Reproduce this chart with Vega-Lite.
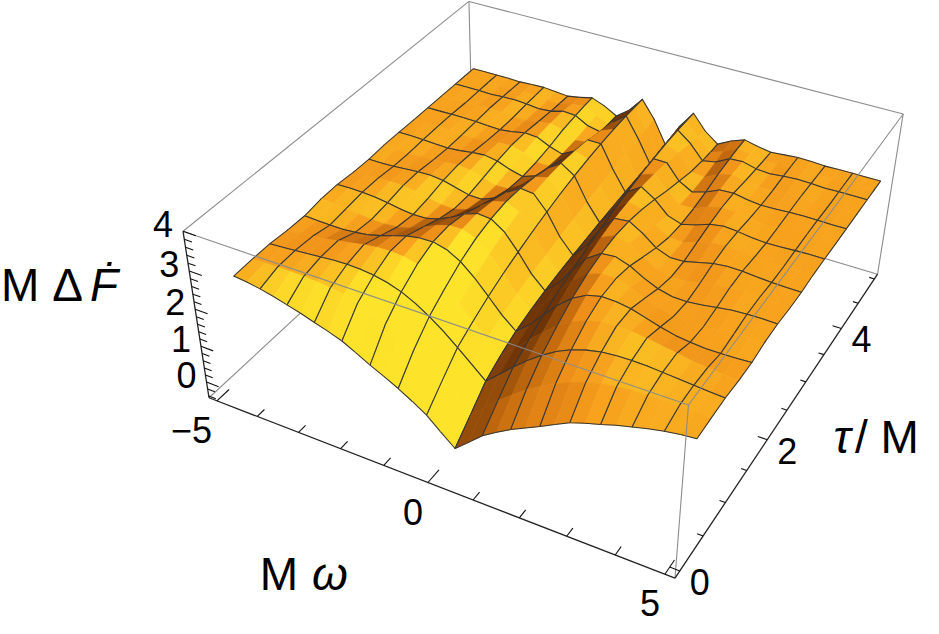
{
  "$schema": "https://vega.github.io/schema/vega-lite/v6.json",
  "width": 939,
  "height": 634,
  "padding": 0,
  "autosize": {"type": "fit", "contains": "padding"},
  "background": "white",
  "config": {"view": {"stroke": null}, "text": {"font": "Liberation Sans", "color": "black"}},
  "datasets": {
    "grid": [
      {"id":16,"w":-5,"t":5,"f":2.27},{"id":116,"w":-4.6875,"t":5,"f":2.27},{"id":216,"w":-4.375,"t":5,"f":2.27},{"id":316,"w":-4.0625,"t":5,"f":2.27},{"id":416,"w":-3.75,"t":5,"f":2.26},{"id":516,"w":-3.4375,"t":5,"f":2.28},{"id":616,"w":-3.125,"t":5,"f":2.29},{"id":716,"w":-2.8125,"t":5,"f":2.26},{"id":816,"w":-2.5,"t":5,"f":2.23},{"id":916,"w":-2.1875,"t":5,"f":2.29},{"id":1016,"w":-1.875,"t":5,"f":2.37},{"id":1116,"w":-1.5625,"t":5,"f":2.24},{"id":1216,"w":-1.25,"t":5,"f":2.05},{"id":1316,"w":-0.9375,"t":5,"f":2.31},{"id":1416,"w":-0.625,"t":5,"f":2.71},{"id":1516,"w":-0.3125,"t":5,"f":2.25},{"id":1616,"w":0,"t":5,"f":1.62},{"id":1716,"w":0.3125,"t":5,"f":2.25},{"id":1816,"w":0.625,"t":5,"f":2.71},{"id":1916,"w":0.9375,"t":5,"f":2.31},{"id":2016,"w":1.25,"t":5,"f":2.05},{"id":2116,"w":1.5625,"t":5,"f":2.24},{"id":2216,"w":1.875,"t":5,"f":2.37},{"id":2316,"w":2.1875,"t":5,"f":2.29},{"id":2416,"w":2.5,"t":5,"f":2.23},{"id":2516,"w":2.8125,"t":5,"f":2.26},{"id":2616,"w":3.125,"t":5,"f":2.29},{"id":2716,"w":3.4375,"t":5,"f":2.28},{"id":2816,"w":3.75,"t":5,"f":2.26},{"id":2916,"w":4.0625,"t":5,"f":2.27},{"id":3016,"w":4.375,"t":5,"f":2.27},{"id":3116,"w":4.6875,"t":5,"f":2.27},{"id":3216,"w":5,"t":5,"f":2.27},
      {"id":15,"w":-5,"t":4.8,"f":2.27},{"id":115,"w":-4.6875,"t":4.8,"f":2.27},{"id":215,"w":-4.375,"t":4.8,"f":2.27},{"id":315,"w":-4.0625,"t":4.8,"f":2.26},{"id":415,"w":-3.75,"t":4.8,"f":2.27},{"id":515,"w":-3.4375,"t":4.8,"f":2.29},{"id":615,"w":-3.125,"t":4.8,"f":2.28},{"id":715,"w":-2.8125,"t":4.8,"f":2.24},{"id":815,"w":-2.5,"t":4.8,"f":2.24},{"id":915,"w":-2.1875,"t":4.8,"f":2.32},{"id":1015,"w":-1.875,"t":4.8,"f":2.36},{"id":1115,"w":-1.5625,"t":4.8,"f":2.19},{"id":1215,"w":-1.25,"t":4.8,"f":2.05},{"id":1315,"w":-0.9375,"t":4.8,"f":2.38},{"id":1415,"w":-0.625,"t":4.8,"f":2.71},{"id":1515,"w":-0.3125,"t":4.8,"f":2.21},{"id":1615,"w":0,"t":4.8,"f":1.60},{"id":1715,"w":0.3125,"t":4.8,"f":2.21},{"id":1815,"w":0.625,"t":4.8,"f":2.71},{"id":1915,"w":0.9375,"t":4.8,"f":2.38},{"id":2015,"w":1.25,"t":4.8,"f":2.05},{"id":2115,"w":1.5625,"t":4.8,"f":2.19},{"id":2215,"w":1.875,"t":4.8,"f":2.36},{"id":2315,"w":2.1875,"t":4.8,"f":2.32},{"id":2415,"w":2.5,"t":4.8,"f":2.24},{"id":2515,"w":2.8125,"t":4.8,"f":2.24},{"id":2615,"w":3.125,"t":4.8,"f":2.28},{"id":2715,"w":3.4375,"t":4.8,"f":2.29},{"id":2815,"w":3.75,"t":4.8,"f":2.27},{"id":2915,"w":4.0625,"t":4.8,"f":2.26},{"id":3015,"w":4.375,"t":4.8,"f":2.27},{"id":3115,"w":4.6875,"t":4.8,"f":2.27},{"id":3215,"w":5,"t":4.8,"f":2.27},
      {"id":14,"w":-5,"t":4.6,"f":2.27},{"id":114,"w":-4.6875,"t":4.6,"f":2.27},{"id":214,"w":-4.375,"t":4.6,"f":2.27},{"id":314,"w":-4.0625,"t":4.6,"f":2.26},{"id":414,"w":-3.75,"t":4.6,"f":2.28},{"id":514,"w":-3.4375,"t":4.6,"f":2.29},{"id":614,"w":-3.125,"t":4.6,"f":2.27},{"id":714,"w":-2.8125,"t":4.6,"f":2.23},{"id":814,"w":-2.5,"t":4.6,"f":2.26},{"id":914,"w":-2.1875,"t":4.6,"f":2.35},{"id":1014,"w":-1.875,"t":4.6,"f":2.33},{"id":1114,"w":-1.5625,"t":4.6,"f":2.14},{"id":1214,"w":-1.25,"t":4.6,"f":2.07},{"id":1314,"w":-0.9375,"t":4.6,"f":2.45},{"id":1414,"w":-0.625,"t":4.6,"f":2.71},{"id":1514,"w":-0.3125,"t":4.6,"f":2.18},{"id":1614,"w":0,"t":4.6,"f":1.58},{"id":1714,"w":0.3125,"t":4.6,"f":2.18},{"id":1814,"w":0.625,"t":4.6,"f":2.71},{"id":1914,"w":0.9375,"t":4.6,"f":2.45},{"id":2014,"w":1.25,"t":4.6,"f":2.07},{"id":2114,"w":1.5625,"t":4.6,"f":2.14},{"id":2214,"w":1.875,"t":4.6,"f":2.33},{"id":2314,"w":2.1875,"t":4.6,"f":2.35},{"id":2414,"w":2.5,"t":4.6,"f":2.26},{"id":2514,"w":2.8125,"t":4.6,"f":2.23},{"id":2614,"w":3.125,"t":4.6,"f":2.27},{"id":2714,"w":3.4375,"t":4.6,"f":2.29},{"id":2814,"w":3.75,"t":4.6,"f":2.28},{"id":2914,"w":4.0625,"t":4.6,"f":2.26},{"id":3014,"w":4.375,"t":4.6,"f":2.27},{"id":3114,"w":4.6875,"t":4.6,"f":2.27},{"id":3214,"w":5,"t":4.6,"f":2.27},
      {"id":13,"w":-5,"t":4.3,"f":2.27},{"id":113,"w":-4.6875,"t":4.3,"f":2.27},{"id":213,"w":-4.375,"t":4.3,"f":2.26},{"id":313,"w":-4.0625,"t":4.3,"f":2.27},{"id":413,"w":-3.75,"t":4.3,"f":2.29},{"id":513,"w":-3.4375,"t":4.3,"f":2.28},{"id":613,"w":-3.125,"t":4.3,"f":2.24},{"id":713,"w":-2.8125,"t":4.3,"f":2.24},{"id":813,"w":-2.5,"t":4.3,"f":2.30},{"id":913,"w":-2.1875,"t":4.3,"f":2.36},{"id":1013,"w":-1.875,"t":4.3,"f":2.27},{"id":1113,"w":-1.5625,"t":4.3,"f":2.08},{"id":1213,"w":-1.25,"t":4.3,"f":2.13},{"id":1313,"w":-0.9375,"t":4.3,"f":2.55},{"id":1413,"w":-0.625,"t":4.3,"f":2.69},{"id":1513,"w":-0.3125,"t":4.3,"f":2.12},{"id":1613,"w":0,"t":4.3,"f":1.55},{"id":1713,"w":0.3125,"t":4.3,"f":2.12},{"id":1813,"w":0.625,"t":4.3,"f":2.69},{"id":1913,"w":0.9375,"t":4.3,"f":2.55},{"id":2013,"w":1.25,"t":4.3,"f":2.13},{"id":2113,"w":1.5625,"t":4.3,"f":2.08},{"id":2213,"w":1.875,"t":4.3,"f":2.27},{"id":2313,"w":2.1875,"t":4.3,"f":2.36},{"id":2413,"w":2.5,"t":4.3,"f":2.30},{"id":2513,"w":2.8125,"t":4.3,"f":2.24},{"id":2613,"w":3.125,"t":4.3,"f":2.24},{"id":2713,"w":3.4375,"t":4.3,"f":2.28},{"id":2813,"w":3.75,"t":4.3,"f":2.29},{"id":2913,"w":4.0625,"t":4.3,"f":2.27},{"id":3013,"w":4.375,"t":4.3,"f":2.26},{"id":3113,"w":4.6875,"t":4.3,"f":2.27},{"id":3213,"w":5,"t":4.3,"f":2.27},
      {"id":12,"w":-5,"t":4,"f":2.27},{"id":112,"w":-4.6875,"t":4,"f":2.27},{"id":212,"w":-4.375,"t":4,"f":2.28},{"id":312,"w":-4.0625,"t":4,"f":2.28},{"id":412,"w":-3.75,"t":4,"f":2.27},{"id":512,"w":-3.4375,"t":4,"f":2.25},{"id":612,"w":-3.125,"t":4,"f":2.24},{"id":712,"w":-2.8125,"t":4,"f":2.28},{"id":812,"w":-2.5,"t":4,"f":2.35},{"id":912,"w":-2.1875,"t":4,"f":2.33},{"id":1012,"w":-1.875,"t":4,"f":2.17},{"id":1112,"w":-1.5625,"t":4,"f":2.06},{"id":1212,"w":-1.25,"t":4,"f":2.25},{"id":1312,"w":-0.9375,"t":4,"f":2.65},{"id":1412,"w":-0.625,"t":4,"f":2.65},{"id":1512,"w":-0.3125,"t":4,"f":2.04},{"id":1612,"w":0,"t":4,"f":1.52},{"id":1712,"w":0.3125,"t":4,"f":2.04},{"id":1812,"w":0.625,"t":4,"f":2.65},{"id":1912,"w":0.9375,"t":4,"f":2.65},{"id":2012,"w":1.25,"t":4,"f":2.25},{"id":2112,"w":1.5625,"t":4,"f":2.06},{"id":2212,"w":1.875,"t":4,"f":2.17},{"id":2312,"w":2.1875,"t":4,"f":2.33},{"id":2412,"w":2.5,"t":4,"f":2.35},{"id":2512,"w":2.8125,"t":4,"f":2.28},{"id":2612,"w":3.125,"t":4,"f":2.24},{"id":2712,"w":3.4375,"t":4,"f":2.25},{"id":2812,"w":3.75,"t":4,"f":2.27},{"id":2912,"w":4.0625,"t":4,"f":2.28},{"id":3012,"w":4.375,"t":4,"f":2.28},{"id":3112,"w":4.6875,"t":4,"f":2.27},{"id":3212,"w":5,"t":4,"f":2.27},
      {"id":11,"w":-5,"t":3.7,"f":2.27},{"id":111,"w":-4.6875,"t":3.7,"f":2.28},{"id":211,"w":-4.375,"t":3.7,"f":2.28},{"id":311,"w":-4.0625,"t":3.7,"f":2.27},{"id":411,"w":-3.75,"t":3.7,"f":2.25},{"id":511,"w":-3.4375,"t":3.7,"f":2.24},{"id":611,"w":-3.125,"t":3.7,"f":2.27},{"id":711,"w":-2.8125,"t":3.7,"f":2.33},{"id":811,"w":-2.5,"t":3.7,"f":2.35},{"id":911,"w":-2.1875,"t":3.7,"f":2.25},{"id":1011,"w":-1.875,"t":3.7,"f":2.10},{"id":1111,"w":-1.5625,"t":3.7,"f":2.09},{"id":1211,"w":-1.25,"t":3.7,"f":2.37},{"id":1311,"w":-0.9375,"t":3.7,"f":2.71},{"id":1411,"w":-0.625,"t":3.7,"f":2.59},{"id":1511,"w":-0.3125,"t":3.7,"f":1.98},{"id":1611,"w":0,"t":3.7,"f":1.48},{"id":1711,"w":0.3125,"t":3.7,"f":1.98},{"id":1811,"w":0.625,"t":3.7,"f":2.59},{"id":1911,"w":0.9375,"t":3.7,"f":2.71},{"id":2011,"w":1.25,"t":3.7,"f":2.37},{"id":2111,"w":1.5625,"t":3.7,"f":2.09},{"id":2211,"w":1.875,"t":3.7,"f":2.10},{"id":2311,"w":2.1875,"t":3.7,"f":2.25},{"id":2411,"w":2.5,"t":3.7,"f":2.35},{"id":2511,"w":2.8125,"t":3.7,"f":2.33},{"id":2611,"w":3.125,"t":3.7,"f":2.27},{"id":2711,"w":3.4375,"t":3.7,"f":2.24},{"id":2811,"w":3.75,"t":3.7,"f":2.25},{"id":2911,"w":4.0625,"t":3.7,"f":2.27},{"id":3011,"w":4.375,"t":3.7,"f":2.28},{"id":3111,"w":4.6875,"t":3.7,"f":2.28},{"id":3211,"w":5,"t":3.7,"f":2.27},
      {"id":10,"w":-5,"t":3.4,"f":2.28},{"id":110,"w":-4.6875,"t":3.4,"f":2.28},{"id":210,"w":-4.375,"t":3.4,"f":2.27},{"id":310,"w":-4.0625,"t":3.4,"f":2.25},{"id":410,"w":-3.75,"t":3.4,"f":2.24},{"id":510,"w":-3.4375,"t":3.4,"f":2.27},{"id":610,"w":-3.125,"t":3.4,"f":2.32},{"id":710,"w":-2.8125,"t":3.4,"f":2.35},{"id":810,"w":-2.5,"t":3.4,"f":2.29},{"id":910,"w":-2.1875,"t":3.4,"f":2.16},{"id":1010,"w":-1.875,"t":3.4,"f":2.07},{"id":1110,"w":-1.5625,"t":3.4,"f":2.19},{"id":1210,"w":-1.25,"t":3.4,"f":2.52},{"id":1310,"w":-0.9375,"t":3.4,"f":2.74},{"id":1410,"w":-0.625,"t":3.4,"f":2.51},{"id":1510,"w":-0.3125,"t":3.4,"f":1.90},{"id":1610,"w":0,"t":3.4,"f":1.44},{"id":1710,"w":0.3125,"t":3.4,"f":1.90},{"id":1810,"w":0.625,"t":3.4,"f":2.51},{"id":1910,"w":0.9375,"t":3.4,"f":2.74},{"id":2010,"w":1.25,"t":3.4,"f":2.52},{"id":2110,"w":1.5625,"t":3.4,"f":2.19},{"id":2210,"w":1.875,"t":3.4,"f":2.07},{"id":2310,"w":2.1875,"t":3.4,"f":2.16},{"id":2410,"w":2.5,"t":3.4,"f":2.29},{"id":2510,"w":2.8125,"t":3.4,"f":2.35},{"id":2610,"w":3.125,"t":3.4,"f":2.32},{"id":2710,"w":3.4375,"t":3.4,"f":2.27},{"id":2810,"w":3.75,"t":3.4,"f":2.24},{"id":2910,"w":4.0625,"t":3.4,"f":2.25},{"id":3010,"w":4.375,"t":3.4,"f":2.27},{"id":3110,"w":4.6875,"t":3.4,"f":2.28},{"id":3210,"w":5,"t":3.4,"f":2.28},
      {"id":9,"w":-5,"t":3.1,"f":2.28},{"id":109,"w":-4.6875,"t":3.1,"f":2.26},{"id":209,"w":-4.375,"t":3.1,"f":2.25},{"id":309,"w":-4.0625,"t":3.1,"f":2.25},{"id":409,"w":-3.75,"t":3.1,"f":2.27},{"id":509,"w":-3.4375,"t":3.1,"f":2.31},{"id":609,"w":-3.125,"t":3.1,"f":2.34},{"id":709,"w":-2.8125,"t":3.1,"f":2.30},{"id":809,"w":-2.5,"t":3.1,"f":2.20},{"id":909,"w":-2.1875,"t":3.1,"f":2.09},{"id":1009,"w":-1.875,"t":3.1,"f":2.11},{"id":1109,"w":-1.5625,"t":3.1,"f":2.32},{"id":1209,"w":-1.25,"t":3.1,"f":2.64},{"id":1309,"w":-0.9375,"t":3.1,"f":2.73},{"id":1409,"w":-0.625,"t":3.1,"f":2.42},{"id":1509,"w":-0.3125,"t":3.1,"f":1.82},{"id":1609,"w":0,"t":3.1,"f":1.39},{"id":1709,"w":0.3125,"t":3.1,"f":1.82},{"id":1809,"w":0.625,"t":3.1,"f":2.42},{"id":1909,"w":0.9375,"t":3.1,"f":2.73},{"id":2009,"w":1.25,"t":3.1,"f":2.64},{"id":2109,"w":1.5625,"t":3.1,"f":2.32},{"id":2209,"w":1.875,"t":3.1,"f":2.11},{"id":2309,"w":2.1875,"t":3.1,"f":2.09},{"id":2409,"w":2.5,"t":3.1,"f":2.20},{"id":2509,"w":2.8125,"t":3.1,"f":2.30},{"id":2609,"w":3.125,"t":3.1,"f":2.34},{"id":2709,"w":3.4375,"t":3.1,"f":2.31},{"id":2809,"w":3.75,"t":3.1,"f":2.27},{"id":2909,"w":4.0625,"t":3.1,"f":2.25},{"id":3009,"w":4.375,"t":3.1,"f":2.25},{"id":3109,"w":4.6875,"t":3.1,"f":2.26},{"id":3209,"w":5,"t":3.1,"f":2.28},
      {"id":8,"w":-5,"t":2.8,"f":2.25},{"id":108,"w":-4.6875,"t":2.8,"f":2.25},{"id":208,"w":-4.375,"t":2.8,"f":2.26},{"id":308,"w":-4.0625,"t":2.8,"f":2.29},{"id":408,"w":-3.75,"t":2.8,"f":2.32},{"id":508,"w":-3.4375,"t":2.8,"f":2.33},{"id":608,"w":-3.125,"t":2.8,"f":2.29},{"id":708,"w":-2.8125,"t":2.8,"f":2.20},{"id":808,"w":-2.5,"t":2.8,"f":2.11},{"id":908,"w":-2.1875,"t":2.8,"f":2.10},{"id":1008,"w":-1.875,"t":2.8,"f":2.24},{"id":1108,"w":-1.5625,"t":2.8,"f":2.51},{"id":1208,"w":-1.25,"t":2.8,"f":2.72},{"id":1308,"w":-0.9375,"t":2.8,"f":2.68},{"id":1408,"w":-0.625,"t":2.8,"f":2.30},{"id":1508,"w":-0.3125,"t":2.8,"f":1.73},{"id":1608,"w":0,"t":2.8,"f":1.34},{"id":1708,"w":0.3125,"t":2.8,"f":1.73},{"id":1808,"w":0.625,"t":2.8,"f":2.30},{"id":1908,"w":0.9375,"t":2.8,"f":2.68},{"id":2008,"w":1.25,"t":2.8,"f":2.72},{"id":2108,"w":1.5625,"t":2.8,"f":2.51},{"id":2208,"w":1.875,"t":2.8,"f":2.24},{"id":2308,"w":2.1875,"t":2.8,"f":2.10},{"id":2408,"w":2.5,"t":2.8,"f":2.11},{"id":2508,"w":2.8125,"t":2.8,"f":2.20},{"id":2608,"w":3.125,"t":2.8,"f":2.29},{"id":2708,"w":3.4375,"t":2.8,"f":2.33},{"id":2808,"w":3.75,"t":2.8,"f":2.32},{"id":2908,"w":4.0625,"t":2.8,"f":2.29},{"id":3008,"w":4.375,"t":2.8,"f":2.26},{"id":3108,"w":4.6875,"t":2.8,"f":2.25},{"id":3208,"w":5,"t":2.8,"f":2.25},
      {"id":7,"w":-5,"t":2.5,"f":2.26},{"id":107,"w":-4.6875,"t":2.5,"f":2.28},{"id":207,"w":-4.375,"t":2.5,"f":2.30},{"id":307,"w":-4.0625,"t":2.5,"f":2.32},{"id":407,"w":-3.75,"t":2.5,"f":2.31},{"id":507,"w":-3.4375,"t":2.5,"f":2.27},{"id":607,"w":-3.125,"t":2.5,"f":2.19},{"id":707,"w":-2.8125,"t":2.5,"f":2.12},{"id":807,"w":-2.5,"t":2.5,"f":2.11},{"id":907,"w":-2.1875,"t":2.5,"f":2.20},{"id":1007,"w":-1.875,"t":2.5,"f":2.41},{"id":1107,"w":-1.5625,"t":2.5,"f":2.64},{"id":1207,"w":-1.25,"t":2.5,"f":2.74},{"id":1307,"w":-0.9375,"t":2.5,"f":2.58},{"id":1407,"w":-0.625,"t":2.5,"f":2.17},{"id":1507,"w":-0.3125,"t":2.5,"f":1.64},{"id":1607,"w":0,"t":2.5,"f":1.28},{"id":1707,"w":0.3125,"t":2.5,"f":1.64},{"id":1807,"w":0.625,"t":2.5,"f":2.17},{"id":1907,"w":0.9375,"t":2.5,"f":2.58},{"id":2007,"w":1.25,"t":2.5,"f":2.74},{"id":2107,"w":1.5625,"t":2.5,"f":2.64},{"id":2207,"w":1.875,"t":2.5,"f":2.41},{"id":2307,"w":2.1875,"t":2.5,"f":2.20},{"id":2407,"w":2.5,"t":2.5,"f":2.11},{"id":2507,"w":2.8125,"t":2.5,"f":2.12},{"id":2607,"w":3.125,"t":2.5,"f":2.19},{"id":2707,"w":3.4375,"t":2.5,"f":2.27},{"id":2807,"w":3.75,"t":2.5,"f":2.31},{"id":2907,"w":4.0625,"t":2.5,"f":2.32},{"id":3007,"w":4.375,"t":2.5,"f":2.30},{"id":3107,"w":4.6875,"t":2.5,"f":2.28},{"id":3207,"w":5,"t":2.5,"f":2.26},
      {"id":6,"w":-5,"t":2.2,"f":2.30},{"id":106,"w":-4.6875,"t":2.2,"f":2.31},{"id":206,"w":-4.375,"t":2.2,"f":2.30},{"id":306,"w":-4.0625,"t":2.2,"f":2.28},{"id":406,"w":-3.75,"t":2.2,"f":2.23},{"id":506,"w":-3.4375,"t":2.2,"f":2.17},{"id":606,"w":-3.125,"t":2.2,"f":2.13},{"id":706,"w":-2.8125,"t":2.2,"f":2.14},{"id":806,"w":-2.5,"t":2.2,"f":2.23},{"id":906,"w":-2.1875,"t":2.2,"f":2.39},{"id":1006,"w":-1.875,"t":2.2,"f":2.59},{"id":1106,"w":-1.5625,"t":2.2,"f":2.71},{"id":1206,"w":-1.25,"t":2.2,"f":2.68},{"id":1306,"w":-0.9375,"t":2.2,"f":2.44},{"id":1406,"w":-0.625,"t":2.2,"f":2.02},{"id":1506,"w":-0.3125,"t":2.2,"f":1.54},{"id":1606,"w":0,"t":2.2,"f":1.20},{"id":1706,"w":0.3125,"t":2.2,"f":1.54},{"id":1806,"w":0.625,"t":2.2,"f":2.02},{"id":1906,"w":0.9375,"t":2.2,"f":2.44},{"id":2006,"w":1.25,"t":2.2,"f":2.68},{"id":2106,"w":1.5625,"t":2.2,"f":2.71},{"id":2206,"w":1.875,"t":2.2,"f":2.59},{"id":2306,"w":2.1875,"t":2.2,"f":2.39},{"id":2406,"w":2.5,"t":2.2,"f":2.23},{"id":2506,"w":2.8125,"t":2.2,"f":2.14},{"id":2606,"w":3.125,"t":2.2,"f":2.13},{"id":2706,"w":3.4375,"t":2.2,"f":2.17},{"id":2806,"w":3.75,"t":2.2,"f":2.23},{"id":2906,"w":4.0625,"t":2.2,"f":2.28},{"id":3006,"w":4.375,"t":2.2,"f":2.30},{"id":3106,"w":4.6875,"t":2.2,"f":2.31},{"id":3206,"w":5,"t":2.2,"f":2.30},
      {"id":5,"w":-5,"t":1.9,"f":2.29},{"id":105,"w":-4.6875,"t":1.9,"f":2.27},{"id":205,"w":-4.375,"t":1.9,"f":2.24},{"id":305,"w":-4.0625,"t":1.9,"f":2.20},{"id":405,"w":-3.75,"t":1.9,"f":2.17},{"id":505,"w":-3.4375,"t":1.9,"f":2.16},{"id":605,"w":-3.125,"t":1.9,"f":2.19},{"id":705,"w":-2.8125,"t":1.9,"f":2.27},{"id":805,"w":-2.5,"t":1.9,"f":2.41},{"id":905,"w":-2.1875,"t":1.9,"f":2.57},{"id":1005,"w":-1.875,"t":1.9,"f":2.68},{"id":1105,"w":-1.5625,"t":1.9,"f":2.69},{"id":1205,"w":-1.25,"t":1.9,"f":2.56},{"id":1305,"w":-0.9375,"t":1.9,"f":2.27},{"id":1405,"w":-0.625,"t":1.9,"f":1.86},{"id":1505,"w":-0.3125,"t":1.9,"f":1.42},{"id":1605,"w":0,"t":1.9,"f":1.10},{"id":1705,"w":0.3125,"t":1.9,"f":1.42},{"id":1805,"w":0.625,"t":1.9,"f":1.86},{"id":1905,"w":0.9375,"t":1.9,"f":2.27},{"id":2005,"w":1.25,"t":1.9,"f":2.56},{"id":2105,"w":1.5625,"t":1.9,"f":2.69},{"id":2205,"w":1.875,"t":1.9,"f":2.68},{"id":2305,"w":2.1875,"t":1.9,"f":2.57},{"id":2405,"w":2.5,"t":1.9,"f":2.41},{"id":2505,"w":2.8125,"t":1.9,"f":2.27},{"id":2605,"w":3.125,"t":1.9,"f":2.19},{"id":2705,"w":3.4375,"t":1.9,"f":2.16},{"id":2805,"w":3.75,"t":1.9,"f":2.17},{"id":2905,"w":4.0625,"t":1.9,"f":2.20},{"id":3005,"w":4.375,"t":1.9,"f":2.24},{"id":3105,"w":4.6875,"t":1.9,"f":2.27},{"id":3205,"w":5,"t":1.9,"f":2.29},
      {"id":4,"w":-5,"t":1.6,"f":2.22},{"id":104,"w":-4.6875,"t":1.6,"f":2.20},{"id":204,"w":-4.375,"t":1.6,"f":2.19},{"id":304,"w":-4.0625,"t":1.6,"f":2.19},{"id":404,"w":-3.75,"t":1.6,"f":2.22},{"id":504,"w":-3.4375,"t":1.6,"f":2.27},{"id":604,"w":-3.125,"t":1.6,"f":2.36},{"id":704,"w":-2.8125,"t":1.6,"f":2.47},{"id":804,"w":-2.5,"t":1.6,"f":2.58},{"id":904,"w":-2.1875,"t":1.6,"f":2.64},{"id":1004,"w":-1.875,"t":1.6,"f":2.65},{"id":1104,"w":-1.5625,"t":1.6,"f":2.56},{"id":1204,"w":-1.25,"t":1.6,"f":2.36},{"id":1304,"w":-0.9375,"t":1.6,"f":2.05},{"id":1404,"w":-0.625,"t":1.6,"f":1.67},{"id":1504,"w":-0.3125,"t":1.6,"f":1.28},{"id":1604,"w":0,"t":1.6,"f":0.97},{"id":1704,"w":0.3125,"t":1.6,"f":1.28},{"id":1804,"w":0.625,"t":1.6,"f":1.67},{"id":1904,"w":0.9375,"t":1.6,"f":2.05},{"id":2004,"w":1.25,"t":1.6,"f":2.36},{"id":2104,"w":1.5625,"t":1.6,"f":2.56},{"id":2204,"w":1.875,"t":1.6,"f":2.65},{"id":2304,"w":2.1875,"t":1.6,"f":2.64},{"id":2404,"w":2.5,"t":1.6,"f":2.58},{"id":2504,"w":2.8125,"t":1.6,"f":2.47},{"id":2604,"w":3.125,"t":1.6,"f":2.36},{"id":2704,"w":3.4375,"t":1.6,"f":2.27},{"id":2804,"w":3.75,"t":1.6,"f":2.22},{"id":2904,"w":4.0625,"t":1.6,"f":2.19},{"id":3004,"w":4.375,"t":1.6,"f":2.19},{"id":3104,"w":4.6875,"t":1.6,"f":2.20},{"id":3204,"w":5,"t":1.6,"f":2.22},
      {"id":3,"w":-5,"t":1.3,"f":2.23},{"id":103,"w":-4.6875,"t":1.3,"f":2.25},{"id":203,"w":-4.375,"t":1.3,"f":2.29},{"id":303,"w":-4.0625,"t":1.3,"f":2.33},{"id":403,"w":-3.75,"t":1.3,"f":2.40},{"id":503,"w":-3.4375,"t":1.3,"f":2.46},{"id":603,"w":-3.125,"t":1.3,"f":2.52},{"id":703,"w":-2.8125,"t":1.3,"f":2.57},{"id":803,"w":-2.5,"t":1.3,"f":2.58},{"id":903,"w":-2.1875,"t":1.3,"f":2.56},{"id":1003,"w":-1.875,"t":1.3,"f":2.47},{"id":1103,"w":-1.5625,"t":1.3,"f":2.31},{"id":1203,"w":-1.25,"t":1.3,"f":2.08},{"id":1303,"w":-0.9375,"t":1.3,"f":1.78},{"id":1403,"w":-0.625,"t":1.3,"f":1.44},{"id":1503,"w":-0.3125,"t":1.3,"f":1.08},{"id":1603,"w":0,"t":1.3,"f":0.77},{"id":1703,"w":0.3125,"t":1.3,"f":1.08},{"id":1803,"w":0.625,"t":1.3,"f":1.44},{"id":1903,"w":0.9375,"t":1.3,"f":1.78},{"id":2003,"w":1.25,"t":1.3,"f":2.08},{"id":2103,"w":1.5625,"t":1.3,"f":2.31},{"id":2203,"w":1.875,"t":1.3,"f":2.47},{"id":2303,"w":2.1875,"t":1.3,"f":2.56},{"id":2403,"w":2.5,"t":1.3,"f":2.58},{"id":2503,"w":2.8125,"t":1.3,"f":2.57},{"id":2603,"w":3.125,"t":1.3,"f":2.52},{"id":2703,"w":3.4375,"t":1.3,"f":2.46},{"id":2803,"w":3.75,"t":1.3,"f":2.40},{"id":2903,"w":4.0625,"t":1.3,"f":2.33},{"id":3003,"w":4.375,"t":1.3,"f":2.29},{"id":3103,"w":4.6875,"t":1.3,"f":2.25},{"id":3203,"w":5,"t":1.3,"f":2.23},
      {"id":2,"w":-5,"t":1,"f":2.27},{"id":102,"w":-4.6875,"t":1,"f":2.29},{"id":202,"w":-4.375,"t":1,"f":2.32},{"id":302,"w":-4.0625,"t":1,"f":2.35},{"id":402,"w":-3.75,"t":1,"f":2.38},{"id":502,"w":-3.4375,"t":1,"f":2.41},{"id":602,"w":-3.125,"t":1,"f":2.42},{"id":702,"w":-2.8125,"t":1,"f":2.41},{"id":802,"w":-2.5,"t":1,"f":2.37},{"id":902,"w":-2.1875,"t":1,"f":2.29},{"id":1002,"w":-1.875,"t":1,"f":2.17},{"id":1102,"w":-1.5625,"t":1,"f":1.99},{"id":1202,"w":-1.25,"t":1,"f":1.76},{"id":1302,"w":-0.9375,"t":1,"f":1.49},{"id":1402,"w":-0.625,"t":1,"f":1.18},{"id":1502,"w":-0.3125,"t":1,"f":0.85},{"id":1602,"w":0,"t":1,"f":0.52},{"id":1702,"w":0.3125,"t":1,"f":0.85},{"id":1802,"w":0.625,"t":1,"f":1.18},{"id":1902,"w":0.9375,"t":1,"f":1.49},{"id":2002,"w":1.25,"t":1,"f":1.76},{"id":2102,"w":1.5625,"t":1,"f":1.99},{"id":2202,"w":1.875,"t":1,"f":2.17},{"id":2302,"w":2.1875,"t":1,"f":2.29},{"id":2402,"w":2.5,"t":1,"f":2.37},{"id":2502,"w":2.8125,"t":1,"f":2.41},{"id":2602,"w":3.125,"t":1,"f":2.42},{"id":2702,"w":3.4375,"t":1,"f":2.41},{"id":2802,"w":3.75,"t":1,"f":2.38},{"id":2902,"w":4.0625,"t":1,"f":2.35},{"id":3002,"w":4.375,"t":1,"f":2.32},{"id":3102,"w":4.6875,"t":1,"f":2.29},{"id":3202,"w":5,"t":1,"f":2.27},
      {"id":1,"w":-5,"t":0.7,"f":2.26},{"id":101,"w":-4.6875,"t":0.7,"f":2.28},{"id":201,"w":-4.375,"t":0.7,"f":2.29},{"id":301,"w":-4.0625,"t":0.7,"f":2.29},{"id":401,"w":-3.75,"t":0.7,"f":2.28},{"id":501,"w":-3.4375,"t":0.7,"f":2.26},{"id":601,"w":-3.125,"t":0.7,"f":2.22},{"id":701,"w":-2.8125,"t":0.7,"f":2.17},{"id":801,"w":-2.5,"t":0.7,"f":2.06},{"id":901,"w":-2.1875,"t":0.7,"f":1.92},{"id":1001,"w":-1.875,"t":0.7,"f":1.75},{"id":1101,"w":-1.5625,"t":0.7,"f":1.55},{"id":1201,"w":-1.25,"t":0.7,"f":1.31},{"id":1301,"w":-0.9375,"t":0.7,"f":1.04},{"id":1401,"w":-0.625,"t":0.7,"f":0.74},{"id":1501,"w":-0.3125,"t":0.7,"f":0.41},{"id":1601,"w":0,"t":0.7,"f":0.07},{"id":1701,"w":0.3125,"t":0.7,"f":0.41},{"id":1801,"w":0.625,"t":0.7,"f":0.74},{"id":1901,"w":0.9375,"t":0.7,"f":1.04},{"id":2001,"w":1.25,"t":0.7,"f":1.31},{"id":2101,"w":1.5625,"t":0.7,"f":1.55},{"id":2201,"w":1.875,"t":0.7,"f":1.75},{"id":2301,"w":2.1875,"t":0.7,"f":1.92},{"id":2401,"w":2.5,"t":0.7,"f":2.06},{"id":2501,"w":2.8125,"t":0.7,"f":2.17},{"id":2601,"w":3.125,"t":0.7,"f":2.22},{"id":2701,"w":3.4375,"t":0.7,"f":2.26},{"id":2801,"w":3.75,"t":0.7,"f":2.28},{"id":2901,"w":4.0625,"t":0.7,"f":2.29},{"id":3001,"w":4.375,"t":0.7,"f":2.29},{"id":3101,"w":4.6875,"t":0.7,"f":2.28},{"id":3201,"w":5,"t":0.7,"f":2.26},
      {"id":0,"w":-5,"t":0.4,"f":2.24},{"id":100,"w":-4.6875,"t":0.4,"f":2.20},{"id":200,"w":-4.375,"t":0.4,"f":2.14},{"id":300,"w":-4.0625,"t":0.4,"f":2.06},{"id":400,"w":-3.75,"t":0.4,"f":1.96},{"id":500,"w":-3.4375,"t":0.4,"f":1.86},{"id":600,"w":-3.125,"t":0.4,"f":1.74},{"id":700,"w":-2.8125,"t":0.4,"f":1.63},{"id":800,"w":-2.5,"t":0.4,"f":1.50},{"id":900,"w":-2.1875,"t":0.4,"f":1.31},{"id":1000,"w":-1.875,"t":0.4,"f":1.11},{"id":1100,"w":-1.5625,"t":0.4,"f":0.93},{"id":1200,"w":-1.25,"t":0.4,"f":0.74},{"id":1300,"w":-0.9375,"t":0.4,"f":0.52},{"id":1400,"w":-0.625,"t":0.4,"f":0.28},{"id":1500,"w":-0.3125,"t":0.4,"f":-0.05},{"id":1600,"w":0,"t":0.4,"f":-0.37},{"id":1700,"w":0.3125,"t":0.4,"f":-0.05},{"id":1800,"w":0.625,"t":0.4,"f":0.28},{"id":1900,"w":0.9375,"t":0.4,"f":0.52},{"id":2000,"w":1.25,"t":0.4,"f":0.74},{"id":2100,"w":1.5625,"t":0.4,"f":0.93},{"id":2200,"w":1.875,"t":0.4,"f":1.11},{"id":2300,"w":2.1875,"t":0.4,"f":1.31},{"id":2400,"w":2.5,"t":0.4,"f":1.50},{"id":2500,"w":2.8125,"t":0.4,"f":1.63},{"id":2600,"w":3.125,"t":0.4,"f":1.74},{"id":2700,"w":3.4375,"t":0.4,"f":1.86},{"id":2800,"w":3.75,"t":0.4,"f":1.96},{"id":2900,"w":4.0625,"t":0.4,"f":2.06},{"id":3000,"w":4.375,"t":0.4,"f":2.14},{"id":3100,"w":4.6875,"t":0.4,"f":2.20},{"id":3200,"w":5,"t":0.4,"f":2.24}
    ],
    "boxBack": [
      {"w1":-5.2,"t1":-0.1,"z1":-0.45,"w2":-5.2,"t2":5.1,"z2":-0.45},
      {"w1":-5.2,"t1":5.1,"z1":-0.45,"w2":5.2,"t2":5.1,"z2":-0.45},
      {"w1":-5.2,"t1":5.1,"z1":-0.45,"w2":-5.2,"t2":5.1,"z2":4},
      {"w1":5.2,"t1":5.1,"z1":-0.45,"w2":5.2,"t2":5.1,"z2":4},
      {"w1":-5.2,"t1":5.1,"z1":4,"w2":5.2,"t2":5.1,"z2":4},
      {"w1":-5.2,"t1":-0.1,"z1":4,"w2":-5.2,"t2":5.1,"z2":4}
    ],
    "boxFront": [
      {"w1":-5.2,"t1":-0.1,"z1":4,"w2":5.2,"t2":-0.1,"z2":4},
      {"w1":5.2,"t1":-0.1,"z1":4,"w2":5.2,"t2":5.1,"z2":4},
      {"w1":5.2,"t1":-0.1,"z1":-0.45,"w2":5.2,"t2":-0.1,"z2":4}
    ],
    "axisLines": [
      {"w1":-5.2,"t1":-0.1,"z1":-0.45,"w2":5.2,"t2":-0.1,"z2":-0.45},
      {"w1":5.2,"t1":-0.1,"z1":-0.45,"w2":5.2,"t2":5.1,"z2":-0.45},
      {"w1":-5.2,"t1":-0.1,"z1":-0.45,"w2":-5.2,"t2":-0.1,"z2":4}
    ],
    "ticks": [
      {"ax":"w","val":-5,"mj":1},{"ax":"w","val":-4,"mj":0},{"ax":"w","val":-3,"mj":0},{"ax":"w","val":-2,"mj":0},{"ax":"w","val":-1,"mj":0},{"ax":"w","val":0,"mj":1},{"ax":"w","val":1,"mj":0},{"ax":"w","val":2,"mj":0},{"ax":"w","val":3,"mj":0},{"ax":"w","val":4,"mj":0},{"ax":"w","val":5,"mj":1},
      {"ax":"t","val":0,"mj":1},{"ax":"t","val":0.5,"mj":0},{"ax":"t","val":1,"mj":0},{"ax":"t","val":1.5,"mj":0},{"ax":"t","val":2,"mj":1},{"ax":"t","val":2.5,"mj":0},{"ax":"t","val":3,"mj":0},{"ax":"t","val":3.5,"mj":0},{"ax":"t","val":4,"mj":1},{"ax":"t","val":4.5,"mj":0},{"ax":"t","val":5,"mj":0},
      {"ax":"z","val":-0.4,"mj":0},{"ax":"z","val":-0.2,"mj":0},{"ax":"z","val":0,"mj":1},{"ax":"z","val":0.2,"mj":0},{"ax":"z","val":0.4,"mj":0},{"ax":"z","val":0.6,"mj":0},{"ax":"z","val":0.8,"mj":0},{"ax":"z","val":1,"mj":1},{"ax":"z","val":1.2,"mj":0},{"ax":"z","val":1.4,"mj":0},{"ax":"z","val":1.6,"mj":0},{"ax":"z","val":1.8,"mj":0},{"ax":"z","val":2,"mj":1},{"ax":"z","val":2.2,"mj":0},{"ax":"z","val":2.4,"mj":0},{"ax":"z","val":2.6,"mj":0},{"ax":"z","val":2.8,"mj":0},{"ax":"z","val":3,"mj":1},{"ax":"z","val":3.2,"mj":0},{"ax":"z","val":3.4,"mj":0},{"ax":"z","val":3.6,"mj":0},{"ax":"z","val":3.8,"mj":0},{"ax":"z","val":4,"mj":1}
    ],
    "zLabels": [{"val":0,"lab":"0"},{"val":1,"lab":"1"},{"val":2,"lab":"2"},{"val":3,"lab":"3"},{"val":4,"lab":"4"}],
    "wLabels": [{"val":-5,"lab":"−5"},{"val":0,"lab":"0"},{"val":5,"lab":"5"}],
    "tLabels": [{"val":0,"lab":"0"},{"val":2,"lab":"2"},{"val":4,"lab":"4"}],
    "titles": [
      {"txt":"M","aw":-0.858,"at":-1.908,"az":-0.45},
      {"txt":"/ M","aw":7.388,"at":2.381,"az":-0.45},
      {"txt":"M Δ","aw":-10.377,"at":0.328,"az":-0.45}
    ],
    "titlesItalic": [
      {"txt":"ω","aw":-0.062,"at":-1.692,"az":-0.45},
      {"txt":"τ","aw":6.621,"at":2.173,"az":-0.45},
      {"txt":"Ḟ","aw":-9.194,"at":0.648,"az":-0.45}
    ]
  },
  "layer": [
    {
      "data": {"name": "boxBack"},
      "transform": [
        {"calculate": "(datum.w1 + 5.2) / 10.4", "as": "pu"},
        {"calculate": "(datum.t1 + 0.1) / 5.2", "as": "pv"},
        {"calculate": "(datum.z1 + 0.45) / 4.45", "as": "ph"},
        {"calculate": "1 - 0.114 * datum.pu + 0.208 * datum.pv - 0.075 * datum.ph", "as": "dep"},
        {"calculate": "(209 + 389.05 * datum.pu + 362 * datum.pv - 39.7 * datum.ph) / datum.dep", "as": "sx"},
        {"calculate": "(397 + 115.1 * datum.pu - 213.4 * datum.pv - 184.25 * datum.ph) / datum.dep", "as": "sy"},
        {"calculate": "(datum.w2 + 5.2) / 10.4", "as": "qu"},
        {"calculate": "(datum.t2 + 0.1) / 5.2", "as": "qv"},
        {"calculate": "(datum.z2 + 0.45) / 4.45", "as": "qh"},
        {"calculate": "1 - 0.114 * datum.qu + 0.208 * datum.qv - 0.075 * datum.qh", "as": "dep2"},
        {"calculate": "(209 + 389.05 * datum.qu + 362 * datum.qv - 39.7 * datum.qh) / datum.dep2", "as": "sx2"},
        {"calculate": "(397 + 115.1 * datum.qu - 213.4 * datum.qv - 184.25 * datum.qh) / datum.dep2", "as": "sy2"}
      ],
      "mark": {"type": "rule", "color": "#8c8c8c", "strokeWidth": 1.1},
      "encoding": {
        "x": {"field": "sx", "type": "quantitative", "scale": {"domain": [0, 939], "nice": false, "zero": false}, "axis": null},
        "y": {"field": "sy", "type": "quantitative", "scale": {"domain": [0, 634], "reverse": true, "nice": false, "zero": false}, "axis": null},
        "x2": {"field": "sx2"},
        "y2": {"field": "sy2"}
      }
    },
    {
      "data": {"name": "grid"},
      "transform": [
        {"calculate": "floor(datum.id / 100)", "as": "i"},
        {"calculate": "datum.id % 100", "as": "j"},
        {"filter": "datum.i < 32 && datum.j < 16"},
        {"calculate": "datum.id + 100", "as": "k10"},
        {"calculate": "datum.id + 1", "as": "k01"},
        {"calculate": "datum.id + 101", "as": "k11"},
        {"lookup": "k10", "from": {"data": {"name": "grid"}, "key": "id", "fields": ["f"]}, "as": ["f10"]},
        {"lookup": "k01", "from": {"data": {"name": "grid"}, "key": "id", "fields": ["f", "t"]}, "as": ["f01", "t01"]},
        {"lookup": "k11", "from": {"data": {"name": "grid"}, "key": "id", "fields": ["f"]}, "as": ["f11"]},
        {"calculate": "0.9348 * ((datum.f10 - datum.f) + (datum.f11 - datum.f01)) / 0.625", "as": "gx"},
        {"calculate": "0.4674 * ((datum.f01 - datum.f) + (datum.f11 - datum.f10)) / (2 * (datum.t01 - datum.t))", "as": "gy"},
        {"calculate": "clamp((-0.4653 * datum.gx + 0.4266 * datum.gy + 0.7756) / sqrt(1 + datum.gx * datum.gx + datum.gy * datum.gy), 0.3, 1)", "as": "shade"},
        {"calculate": "datum.i % 2 == 0 ? datum.i : datum.i + 1", "as": "ic"},
        {"calculate": "datum.i % 2 == 0 ? datum.i + 1 : datum.i", "as": "io"},
        {"calculate": "datum.j % 2 == 0 ? datum.j : datum.j + 1", "as": "jc"},
        {"calculate": "datum.j % 2 == 0 ? datum.j + 1 : datum.j", "as": "jo"},
        {"calculate": "datum.id", "as": "p0"},
        {"calculate": "datum.k10", "as": "p1"},
        {"calculate": "datum.k11", "as": "p2"},
        {"calculate": "datum.k01", "as": "p3"},
        {"calculate": "datum.id", "as": "p4"},
        {"calculate": "datum.io * 100 + datum.jc", "as": "q0"},
        {"calculate": "datum.ic * 100 + datum.jc", "as": "q1"},
        {"calculate": "datum.ic * 100 + datum.jo", "as": "q2"},
        {"fold": ["p0", "p1", "p2", "p3", "p4", "q0", "q1", "q2"], "as": ["slot", "vk"]},
        {"lookup": "vk", "from": {"data": {"name": "grid"}, "key": "id", "fields": ["w", "t", "f"]}, "as": ["vw", "vt", "vf"]},
        {"calculate": "substring(datum.slot, 0, 1) == 'q'", "as": "isLine"},
        {"calculate": "toNumber(substring(datum.slot, 1))", "as": "ord"},
        {"calculate": "100000 + (16 - datum.j) * 1000 + datum.i * 2 + (datum.isLine ? 1 : 0)", "as": "gid"},
        {"calculate": "datum.isLine ? 0 : datum.shade", "as": "tone"},
        {"calculate": "datum.isLine ? 0 : 1", "as": "fo"},
        {"calculate": "datum.isLine ? 1.05 : 0.7", "as": "sw"},
        {"calculate": "(datum.vw + 5.2) / 10.4", "as": "pu"},
        {"calculate": "(datum.vt + 0.1) / 5.2", "as": "pv"},
        {"calculate": "(datum.vf + 0.45) / 4.45", "as": "ph"},
        {"calculate": "1 - 0.114 * datum.pu + 0.208 * datum.pv - 0.075 * datum.ph", "as": "dep"},
        {"calculate": "(209 + 389.05 * datum.pu + 362 * datum.pv - 39.7 * datum.ph) / datum.dep", "as": "sx"},
        {"calculate": "(397 + 115.1 * datum.pu - 213.4 * datum.pv - 184.25 * datum.ph) / datum.dep", "as": "sy"}
      ],
      "mark": {"type": "line", "strokeJoin": "round", "strokeCap": "round"},
      "encoding": {
        "x": {"field": "sx", "type": "quantitative", "scale": {"domain": [0, 939], "nice": false, "zero": false}, "axis": null},
        "y": {"field": "sy", "type": "quantitative", "scale": {"domain": [0, 634], "reverse": true, "nice": false, "zero": false}, "axis": null},
        "detail": {"field": "gid", "type": "nominal"},
        "order": {"field": "ord", "type": "quantitative"},
        "fill": {"field": "tone", "type": "quantitative", "legend": null, "scale": {"domain": [0, 0.25, 0.3, 0.5, 0.66, 0.776, 0.89, 0.97], "range": ["#353535", "#353535", "#6e3406", "#c46a0e", "#ec8e18", "#f8a31e", "#fbc424", "#fde42a"], "interpolate": "rgb", "clamp": true}},
        "stroke": {"field": "tone", "type": "quantitative", "legend": null, "scale": {"domain": [0, 0.25, 0.3, 0.5, 0.66, 0.776, 0.89, 0.97], "range": ["#353535", "#353535", "#6e3406", "#c46a0e", "#ec8e18", "#f8a31e", "#fbc424", "#fde42a"], "interpolate": "rgb", "clamp": true}},
        "fillOpacity": {"field": "fo", "type": "quantitative", "scale": null},
        "strokeWidth": {"field": "sw", "type": "quantitative", "scale": null}
      }
    },
    {
      "data": {"name": "boxFront"},
      "transform": [
        {"calculate": "(datum.w1 + 5.2) / 10.4", "as": "pu"},
        {"calculate": "(datum.t1 + 0.1) / 5.2", "as": "pv"},
        {"calculate": "(datum.z1 + 0.45) / 4.45", "as": "ph"},
        {"calculate": "1 - 0.114 * datum.pu + 0.208 * datum.pv - 0.075 * datum.ph", "as": "dep"},
        {"calculate": "(209 + 389.05 * datum.pu + 362 * datum.pv - 39.7 * datum.ph) / datum.dep", "as": "sx"},
        {"calculate": "(397 + 115.1 * datum.pu - 213.4 * datum.pv - 184.25 * datum.ph) / datum.dep", "as": "sy"},
        {"calculate": "(datum.w2 + 5.2) / 10.4", "as": "qu"},
        {"calculate": "(datum.t2 + 0.1) / 5.2", "as": "qv"},
        {"calculate": "(datum.z2 + 0.45) / 4.45", "as": "qh"},
        {"calculate": "1 - 0.114 * datum.qu + 0.208 * datum.qv - 0.075 * datum.qh", "as": "dep2"},
        {"calculate": "(209 + 389.05 * datum.qu + 362 * datum.qv - 39.7 * datum.qh) / datum.dep2", "as": "sx2"},
        {"calculate": "(397 + 115.1 * datum.qu - 213.4 * datum.qv - 184.25 * datum.qh) / datum.dep2", "as": "sy2"}
      ],
      "mark": {"type": "rule", "color": "#8c8c8c", "strokeWidth": 1.1},
      "encoding": {
        "x": {"field": "sx", "type": "quantitative", "scale": {"domain": [0, 939], "nice": false, "zero": false}, "axis": null},
        "y": {"field": "sy", "type": "quantitative", "scale": {"domain": [0, 634], "reverse": true, "nice": false, "zero": false}, "axis": null},
        "x2": {"field": "sx2"},
        "y2": {"field": "sy2"}
      }
    },
    {
      "data": {"name": "axisLines"},
      "transform": [
        {"calculate": "(datum.w1 + 5.2) / 10.4", "as": "pu"},
        {"calculate": "(datum.t1 + 0.1) / 5.2", "as": "pv"},
        {"calculate": "(datum.z1 + 0.45) / 4.45", "as": "ph"},
        {"calculate": "1 - 0.114 * datum.pu + 0.208 * datum.pv - 0.075 * datum.ph", "as": "dep"},
        {"calculate": "(209 + 389.05 * datum.pu + 362 * datum.pv - 39.7 * datum.ph) / datum.dep", "as": "sx"},
        {"calculate": "(397 + 115.1 * datum.pu - 213.4 * datum.pv - 184.25 * datum.ph) / datum.dep", "as": "sy"},
        {"calculate": "(datum.w2 + 5.2) / 10.4", "as": "qu"},
        {"calculate": "(datum.t2 + 0.1) / 5.2", "as": "qv"},
        {"calculate": "(datum.z2 + 0.45) / 4.45", "as": "qh"},
        {"calculate": "1 - 0.114 * datum.qu + 0.208 * datum.qv - 0.075 * datum.qh", "as": "dep2"},
        {"calculate": "(209 + 389.05 * datum.qu + 362 * datum.qv - 39.7 * datum.qh) / datum.dep2", "as": "sx2"},
        {"calculate": "(397 + 115.1 * datum.qu - 213.4 * datum.qv - 184.25 * datum.qh) / datum.dep2", "as": "sy2"}
      ],
      "mark": {"type": "rule", "color": "#222222", "strokeWidth": 1.3},
      "encoding": {
        "x": {"field": "sx", "type": "quantitative", "scale": {"domain": [0, 939], "nice": false, "zero": false}, "axis": null},
        "y": {"field": "sy", "type": "quantitative", "scale": {"domain": [0, 634], "reverse": true, "nice": false, "zero": false}, "axis": null},
        "x2": {"field": "sx2"},
        "y2": {"field": "sy2"}
      }
    },
    {
      "data": {"name": "ticks"},
      "transform": [
        {"calculate": "datum.ax == 'w' ? datum.val : (datum.ax == 't' ? 5.2 : -5.2)", "as": "w1"},
        {"calculate": "datum.ax == 't' ? datum.val : -0.1", "as": "t1"},
        {"calculate": "datum.ax == 'z' ? datum.val : -0.45", "as": "z1"},
        {"calculate": "datum.ax == 'z' ? (datum.mj ? 0.3 : 0.18) : (datum.mj ? 0.2 : 0.12)", "as": "len"},
        {"calculate": "datum.ax == 't' ? datum.w1 - datum.len : (datum.ax == 'z' ? datum.w1 + datum.len : datum.w1)", "as": "w2"},
        {"calculate": "datum.ax == 'w' ? datum.t1 + datum.len : datum.t1", "as": "t2"},
        {"calculate": "(datum.w1 + 5.2) / 10.4", "as": "pu"},
        {"calculate": "(datum.t1 + 0.1) / 5.2", "as": "pv"},
        {"calculate": "(datum.z1 + 0.45) / 4.45", "as": "ph"},
        {"calculate": "1 - 0.114 * datum.pu + 0.208 * datum.pv - 0.075 * datum.ph", "as": "dep"},
        {"calculate": "(209 + 389.05 * datum.pu + 362 * datum.pv - 39.7 * datum.ph) / datum.dep", "as": "sx"},
        {"calculate": "(397 + 115.1 * datum.pu - 213.4 * datum.pv - 184.25 * datum.ph) / datum.dep", "as": "sy"},
        {"calculate": "(datum.w2 + 5.2) / 10.4", "as": "qu"},
        {"calculate": "(datum.t2 + 0.1) / 5.2", "as": "qv"},
        {"calculate": "1 - 0.114 * datum.qu + 0.208 * datum.qv - 0.075 * datum.ph", "as": "dep2"},
        {"calculate": "(209 + 389.05 * datum.qu + 362 * datum.qv - 39.7 * datum.ph) / datum.dep2", "as": "sx2"},
        {"calculate": "(397 + 115.1 * datum.qu - 213.4 * datum.qv - 184.25 * datum.ph) / datum.dep2", "as": "sy2"}
      ],
      "mark": {"type": "rule", "color": "#111111", "strokeWidth": 1.1},
      "encoding": {
        "x": {"field": "sx", "type": "quantitative", "scale": {"domain": [0, 939], "nice": false, "zero": false}, "axis": null},
        "y": {"field": "sy", "type": "quantitative", "scale": {"domain": [0, 634], "reverse": true, "nice": false, "zero": false}, "axis": null},
        "x2": {"field": "sx2"},
        "y2": {"field": "sy2"}
      }
    },
    {
      "data": {"name": "zLabels"},
      "transform": [
        {"calculate": "(datum.val + 0.45) / 4.45", "as": "ph"},
        {"calculate": "1 - 0.075 * datum.ph", "as": "dep"},
        {"calculate": "(209 - 39.7 * datum.ph) / datum.dep", "as": "sx"},
        {"calculate": "(397 - 184.25 * datum.ph) / datum.dep", "as": "sy"}
      ],
      "mark": {"type": "text", "align": "right", "baseline": "middle", "dx": -10, "dy": -5, "fontSize": 36},
      "encoding": {
        "x": {"field": "sx", "type": "quantitative", "scale": {"domain": [0, 939], "nice": false, "zero": false}, "axis": null},
        "y": {"field": "sy", "type": "quantitative", "scale": {"domain": [0, 634], "reverse": true, "nice": false, "zero": false}, "axis": null},
        "text": {"field": "lab"}
      }
    },
    {
      "data": {"name": "wLabels"},
      "transform": [
        {"calculate": "(datum.val + 5.2) / 10.4", "as": "pu"},
        {"calculate": "1 - 0.114 * datum.pu", "as": "dep"},
        {"calculate": "(209 + 389.05 * datum.pu) / datum.dep", "as": "sx"},
        {"calculate": "(397 + 115.1 * datum.pu) / datum.dep", "as": "sy"}
      ],
      "mark": {"type": "text", "align": "right", "baseline": "middle", "dx": -5, "dy": 31, "fontSize": 36},
      "encoding": {
        "x": {"field": "sx", "type": "quantitative", "scale": {"domain": [0, 939], "nice": false, "zero": false}, "axis": null},
        "y": {"field": "sy", "type": "quantitative", "scale": {"domain": [0, 634], "reverse": true, "nice": false, "zero": false}, "axis": null},
        "text": {"field": "lab"}
      }
    },
    {
      "data": {"name": "tLabels"},
      "transform": [
        {"calculate": "(datum.val + 0.1) / 5.2", "as": "pv"},
        {"calculate": "1 - 0.114 + 0.208 * datum.pv", "as": "dep"},
        {"calculate": "(209 + 389.05 + 362 * datum.pv) / datum.dep", "as": "sx"},
        {"calculate": "(397 + 115.1 - 213.4 * datum.pv) / datum.dep", "as": "sy"}
      ],
      "mark": {"type": "text", "align": "left", "baseline": "middle", "dx": 10, "dy": 13, "fontSize": 36},
      "encoding": {
        "x": {"field": "sx", "type": "quantitative", "scale": {"domain": [0, 939], "nice": false, "zero": false}, "axis": null},
        "y": {"field": "sy", "type": "quantitative", "scale": {"domain": [0, 634], "reverse": true, "nice": false, "zero": false}, "axis": null},
        "text": {"field": "lab"}
      }
    },
    {
      "data": {"name": "titles"},
      "transform": [
        {"calculate": "(datum.aw + 5.2) / 10.4", "as": "pu"},
        {"calculate": "(datum.at + 0.1) / 5.2", "as": "pv"},
        {"calculate": "(datum.az + 0.45) / 4.45", "as": "ph"},
        {"calculate": "1 - 0.114 * datum.pu + 0.208 * datum.pv - 0.075 * datum.ph", "as": "dep"},
        {"calculate": "(209 + 389.05 * datum.pu + 362 * datum.pv - 39.7 * datum.ph) / datum.dep", "as": "sx"},
        {"calculate": "(397 + 115.1 * datum.pu - 213.4 * datum.pv - 184.25 * datum.ph) / datum.dep", "as": "sy"}
      ],
      "mark": {"type": "text", "align": "center", "baseline": "alphabetic", "fontSize": 46},
      "encoding": {
        "x": {"field": "sx", "type": "quantitative", "scale": {"domain": [0, 939], "nice": false, "zero": false}, "axis": null},
        "y": {"field": "sy", "type": "quantitative", "scale": {"domain": [0, 634], "reverse": true, "nice": false, "zero": false}, "axis": null},
        "text": {"field": "txt"}
      }
    },
    {
      "data": {"name": "titlesItalic"},
      "transform": [
        {"calculate": "(datum.aw + 5.2) / 10.4", "as": "pu"},
        {"calculate": "(datum.at + 0.1) / 5.2", "as": "pv"},
        {"calculate": "(datum.az + 0.45) / 4.45", "as": "ph"},
        {"calculate": "1 - 0.114 * datum.pu + 0.208 * datum.pv - 0.075 * datum.ph", "as": "dep"},
        {"calculate": "(209 + 389.05 * datum.pu + 362 * datum.pv - 39.7 * datum.ph) / datum.dep", "as": "sx"},
        {"calculate": "(397 + 115.1 * datum.pu - 213.4 * datum.pv - 184.25 * datum.ph) / datum.dep", "as": "sy"}
      ],
      "mark": {"type": "text", "align": "center", "baseline": "alphabetic", "fontSize": 46, "fontStyle": "italic"},
      "encoding": {
        "x": {"field": "sx", "type": "quantitative", "scale": {"domain": [0, 939], "nice": false, "zero": false}, "axis": null},
        "y": {"field": "sy", "type": "quantitative", "scale": {"domain": [0, 634], "reverse": true, "nice": false, "zero": false}, "axis": null},
        "text": {"field": "txt"}
      }
    }
  ]
}
